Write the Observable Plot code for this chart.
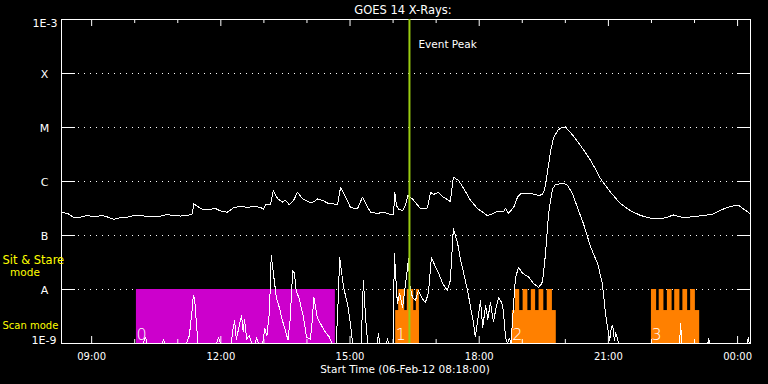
<!DOCTYPE html>
<html><head><meta charset="utf-8">
<script src="https://cdn.jsdelivr.net/npm/d3@7"></script>
<script src="https://cdn.jsdelivr.net/npm/@observablehq/plot@0.6"></script>
<style>html,body{margin:0;padding:0;background:#000;}#chart{width:768px;height:384px;overflow:hidden;}</style>
</head><body><div id="chart"></div>
<script>
// ---------- data ----------
const title = "GOES 14 X-Rays:";
const xAxisTitle = "Start Time (06-Feb-12 08:18:00)";
const xDomainHours = [8.3, 24.3];            // 08:18 on 06-Feb-12 to 00:18 next day
const xMajorHours = [9, 12, 15, 18, 21, 24];
const xMinorHours = [10, 11, 13, 14, 16, 17, 19, 20, 22, 23];
const yDecadeLog = [-9, -8, -7, -6, -5, -4, -3];
const yLetterLog = [-8, -7, -6, -5, -4];
const yLetterLabels = ["A", "B", "C", "M", "X"];
const gridLog = [-8, -7, -6, -5, -4];
const eventPeakHour = 16.38;

// long channel (1-8 A), hours since 06-Feb 00:00 UT and log10 flux
const longTime = [8.30,8.46,8.57,8.74,8.90,9.04,9.26,9.38,9.51,9.67,9.83,9.97,10.13,10.30,10.44,10.60,10.76,10.88,11.06,11.22,11.34,11.37,11.46,11.58,11.76,11.86,11.97,12.15,12.29,12.45,12.62,12.76,12.92,12.99,13.04,13.15,13.22,13.32,13.43,13.50,13.59,13.69,13.78,13.90,14.04,14.15,14.25,14.36,14.48,14.59,14.71,14.78,14.90,15.01,15.17,15.29,15.41,15.48,15.64,15.78,15.94,16.01,16.04,16.08,16.13,16.22,16.29,16.34,16.45,16.57,16.64,16.80,16.87,16.94,17.05,17.17,17.33,17.40,17.52,17.64,17.80,17.96,18.10,18.19,18.30,18.43,18.56,18.61,18.68,18.80,18.89,18.96,19.08,19.19,19.30,19.38,19.47,19.52,19.59,19.66,19.73,19.84,19.92,20.00,20.12,20.35,20.59,20.82,21.05,21.28,21.51,21.75,21.98,22.21,22.37,22.51,22.74,22.98,23.21,23.44,23.67,23.84,24.02,24.14,24.30];
const longLog = [-6.57,-6.60,-6.66,-6.66,-6.63,-6.65,-6.63,-6.66,-6.70,-6.67,-6.66,-6.63,-6.63,-6.65,-6.65,-6.64,-6.61,-6.63,-6.64,-6.63,-6.60,-6.41,-6.46,-6.52,-6.52,-6.49,-6.54,-6.57,-6.49,-6.46,-6.48,-6.46,-6.48,-6.51,-6.43,-6.43,-6.17,-6.32,-6.38,-6.35,-6.43,-6.35,-6.20,-6.32,-6.38,-6.38,-6.32,-6.35,-6.40,-6.41,-6.43,-6.11,-6.29,-6.48,-6.51,-6.29,-6.48,-6.57,-6.59,-6.57,-6.61,-6.62,-6.20,-6.45,-6.51,-6.54,-6.44,-6.26,-6.32,-6.44,-6.50,-6.49,-6.20,-6.24,-6.20,-6.29,-6.37,-5.92,-5.98,-6.13,-6.35,-6.50,-6.58,-6.63,-6.60,-6.55,-6.56,-6.50,-6.59,-6.48,-6.29,-6.23,-6.22,-6.22,-6.24,-6.26,-6.24,-6.15,-5.80,-5.43,-5.18,-5.04,-5.00,-4.99,-5.09,-5.33,-5.61,-5.95,-6.20,-6.41,-6.54,-6.63,-6.68,-6.69,-6.66,-6.62,-6.67,-6.65,-6.63,-6.60,-6.51,-6.46,-6.44,-6.51,-6.60];

// short channel (0.5-4 A); -9 = at/below the plot floor
const shortTime = [8.30,10.20,10.25,10.29,10.63,10.67,10.71,11.20,11.27,11.33,11.36,11.39,11.43,11.47,11.90,11.95,11.99,12.24,12.28,12.32,12.36,12.42,12.48,12.52,12.55,12.60,12.66,12.72,12.80,12.83,12.87,12.97,13.02,13.07,13.13,13.17,13.22,13.29,13.38,13.41,13.50,13.56,13.61,13.67,13.71,13.75,13.82,13.92,13.99,14.08,14.12,14.16,14.24,14.40,14.52,14.58,14.68,14.72,14.76,14.85,14.94,15.01,15.06,15.26,15.31,15.36,15.41,15.63,15.66,15.69,15.85,15.87,15.89,16.00,16.03,16.10,16.15,16.22,16.27,16.36,16.38,16.45,16.52,16.59,16.68,16.75,16.82,16.89,16.99,17.06,17.15,17.26,17.33,17.40,17.50,17.57,17.64,17.73,17.80,17.87,17.91,17.96,18.03,18.08,18.15,18.20,18.26,18.33,18.39,18.45,18.52,18.56,18.61,18.66,18.70,18.74,18.77,18.84,18.91,19.01,19.08,19.15,19.26,19.38,19.44,19.47,19.54,19.61,19.70,19.77,19.96,20.05,20.17,20.28,20.42,20.59,20.75,20.86,20.93,20.98,21.03,21.07,21.10,21.14,21.17,21.24,22.65,22.68,22.70,23.31,23.33,23.35,24.23,24.25,24.27,24.30];
const shortLog = [-9,-9,-8.88,-9,-9,-8.93,-9,-9,-8.85,-8.40,-8.11,-8.15,-8.60,-9,-9,-8.89,-9,-9,-8.75,-8.57,-8.92,-8.70,-8.48,-8.78,-8.55,-8.92,-8.85,-9,-9,-8.88,-9,-9,-8.72,-8.86,-8.40,-7.37,-7.70,-8.15,-8.39,-8.52,-8.76,-8.94,-8.55,-7.65,-7.70,-8.02,-8.17,-8.52,-8.88,-8.92,-8.60,-8.15,-8.52,-8.76,-8.88,-9,-9,-8.30,-7.41,-7.96,-8.26,-8.63,-9,-9,-7.83,-8.50,-9,-9,-8.81,-9,-9,-8.90,-9,-9,-7.33,-8.26,-8.07,-8.33,-8.02,-7.43,-7.89,-8.15,-8.20,-8.02,-8.17,-8.24,-8.07,-7.41,-7.59,-7.70,-7.89,-8.02,-7.83,-6.87,-7.15,-7.46,-7.70,-8.02,-8.33,-8.63,-8.88,-8.60,-8.20,-8.70,-8.30,-8.55,-8.24,-8.60,-8.35,-8.15,-8.24,-8.39,-8.88,-9,-8.90,-9,-8.60,-7.80,-7.59,-7.70,-7.74,-7.77,-7.89,-7.96,-7.90,-7.85,-7.34,-6.60,-6.14,-6.06,-6.03,-6.07,-6.23,-6.48,-6.78,-7.22,-7.52,-7.89,-8.42,-8.70,-8.94,-8.70,-8.67,-8.95,-8.80,-9,-9,-8.63,-9,-9,-8.90,-9,-9,-8.88,-9,-9];

// observation blocks
const obsLabels = ["0", "1", "2", "3"];
const obsStart = [10.04, 16.06, 18.77, 22.00];
const obsEnd = [14.66, 16.61, 19.79, 23.12];
const obsTopLog = [-8, -8.39, -8.39, -8.39];
const sitStart = [16.13, 16.33, 16.54, 18.84, 19.02, 19.21, 19.39, 19.58, 22.00, 22.18, 22.37, 22.54, 22.73, 22.91];
const sitEnd   = [16.27, 16.48, 16.61, 18.94, 19.13, 19.31, 19.50, 19.70, 22.12, 22.29, 22.48, 22.66, 22.84, 23.02];
const sitTopLog = -8;

// ---------- drawing ----------
const W = 768, H = 384, mL = 61, mR = 18, mT = 19, mB = 41;
const fw = W - mL - mR, fh = H - mT - mB;
const day0 = Date.UTC(2012, 1, 6);
const toDate = h => new Date(day0 + h * 3600e3);
const fmt = d3.utcFormat("%H:%M");
const idx = n => d3.range(n);

const chart = Plot.plot({
  width: W, height: H,
  marginLeft: mL, marginRight: mR, marginTop: mT, marginBottom: mB,
  style: {background: "black", color: "white", fontFamily: "DejaVu Sans", fontSize: "10px"},
  x: {type: "utc", domain: xDomainHours.map(toDate), axis: null},
  y: {type: "log", domain: [1e-9, 1e-3], axis: null},
  marks: [
    Plot.ruleY(gridLog, {y: d => 10 ** d, stroke: "white", strokeDasharray: "1,5", insetLeft: 17, insetRight: 13}),
    Plot.rect([0], {x1: i => toDate(obsStart[i]), x2: i => toDate(obsEnd[i]), y1: () => 1e-9, y2: i => 10 ** obsTopLog[i], fill: "#cc00cc"}),
    Plot.rect(idx(3).map(i => i + 1), {x1: i => toDate(obsStart[i]), x2: i => toDate(obsEnd[i]), y1: () => 1e-9, y2: i => 10 ** obsTopLog[i], fill: "#ff8000"}),
    Plot.rect(idx(sitStart.length), {x1: i => toDate(sitStart[i]), x2: i => toDate(sitEnd[i]), y1: () => 1e-9, y2: () => 10 ** sitTopLog, fill: "#ff8000"}),
    Plot.text(idx(obsLabels.length), {x: i => toDate(obsStart[i]), text: i => obsLabels[i], frameAnchor: "bottom", lineAnchor: "bottom", textAnchor: "start", dy: -4, dx: 0, fontSize: 16, fontWeight: 200, fill: "white"}),
    Plot.line(idx(shortTime.length), {x: i => toDate(shortTime[i]), y: i => 10 ** shortLog[i], stroke: "white", strokeWidth: 1, shapeRendering: "crispEdges"}),
    Plot.line(idx(longTime.length), {x: i => toDate(longTime[i]), y: i => 10 ** longLog[i], stroke: "white", strokeWidth: 1, shapeRendering: "crispEdges"}),
    Plot.frame({stroke: "white"}),
    // x ticks (inward) top and bottom
    Plot.tickX(xMajorHours, {x: toDate, stroke: "white", insetBottom: fh - 7}),
    Plot.tickX(xMajorHours, {x: toDate, stroke: "white", insetTop: fh - 7}),
    Plot.tickX(xMinorHours, {x: toDate, stroke: "white", insetBottom: fh - 4}),
    Plot.tickX(xMinorHours, {x: toDate, stroke: "white", insetTop: fh - 4}),
    // y ticks (inward) left and right
    Plot.tickY(yDecadeLog, {y: d => 10 ** d, stroke: "white", insetRight: fw - 14}),
    Plot.tickY(yDecadeLog, {y: d => 10 ** d, stroke: "white", insetLeft: fw - 13}),
    Plot.ruleX([eventPeakHour], {x: toDate, stroke: "#99cc11", strokeWidth: 2}),
    Plot.text([eventPeakHour], {x: toDate, text: () => "Event Peak", frameAnchor: "top", textAnchor: "start", lineAnchor: "bottom", dx: 9, dy: 28, fontSize: 10.5, fill: "white"}),
    // axis labels
    Plot.text(xMajorHours, {x: toDate, text: h => fmt(toDate(h)), frameAnchor: "bottom", lineAnchor: "bottom", dy: 16, fontSize: 10, fill: "white"}),
    Plot.text([xAxisTitle], {text: d => d, frameAnchor: "bottom", lineAnchor: "bottom", dy: 29, dx: -1, fontSize: 10.5, fill: "white"}),
    Plot.text([title], {text: d => d, frameAnchor: "top", lineAnchor: "bottom", dy: -5.5, dx: -3, fontSize: 11.5, fill: "white"}),
    Plot.text(idx(yLetterLog.length), {y: i => 10 ** yLetterLog[i], text: i => yLetterLabels[i], frameAnchor: "left", textAnchor: "middle", dx: -17, dy: 1, fontSize: 11, fill: "white"}),
    Plot.text(["1E-3"], {y: () => 1e-3, text: d => d, frameAnchor: "left", textAnchor: "end", lineAnchor: "top", dx: -4, fontSize: 11, fill: "white"}),
    Plot.text(["1E-9"], {y: () => 1e-9, text: d => d, frameAnchor: "left", textAnchor: "end", lineAnchor: "bottom", dx: -5, fontSize: 11, fill: "white"}),
    // mode labels
    Plot.text(["Sit & Stare"], {text: d => d, frameAnchor: "top-left", textAnchor: "start", lineAnchor: "bottom", dx: -59, dy: 244.5, fontSize: 11.5, fill: "#ffff00"}),
    Plot.text(["mode"], {text: d => d, frameAnchor: "top-left", textAnchor: "middle", lineAnchor: "bottom", dx: -36.5, dy: 256, fontSize: 10.5, fill: "#ffff00"}),
    Plot.text(["Scan mode"], {text: d => d, frameAnchor: "top-left", textAnchor: "start", lineAnchor: "bottom", dx: -59, dy: 309, fontSize: 10, fill: "#ffff00"})
  ]
});
document.getElementById("chart").appendChild(chart);
</script>
</body></html>
